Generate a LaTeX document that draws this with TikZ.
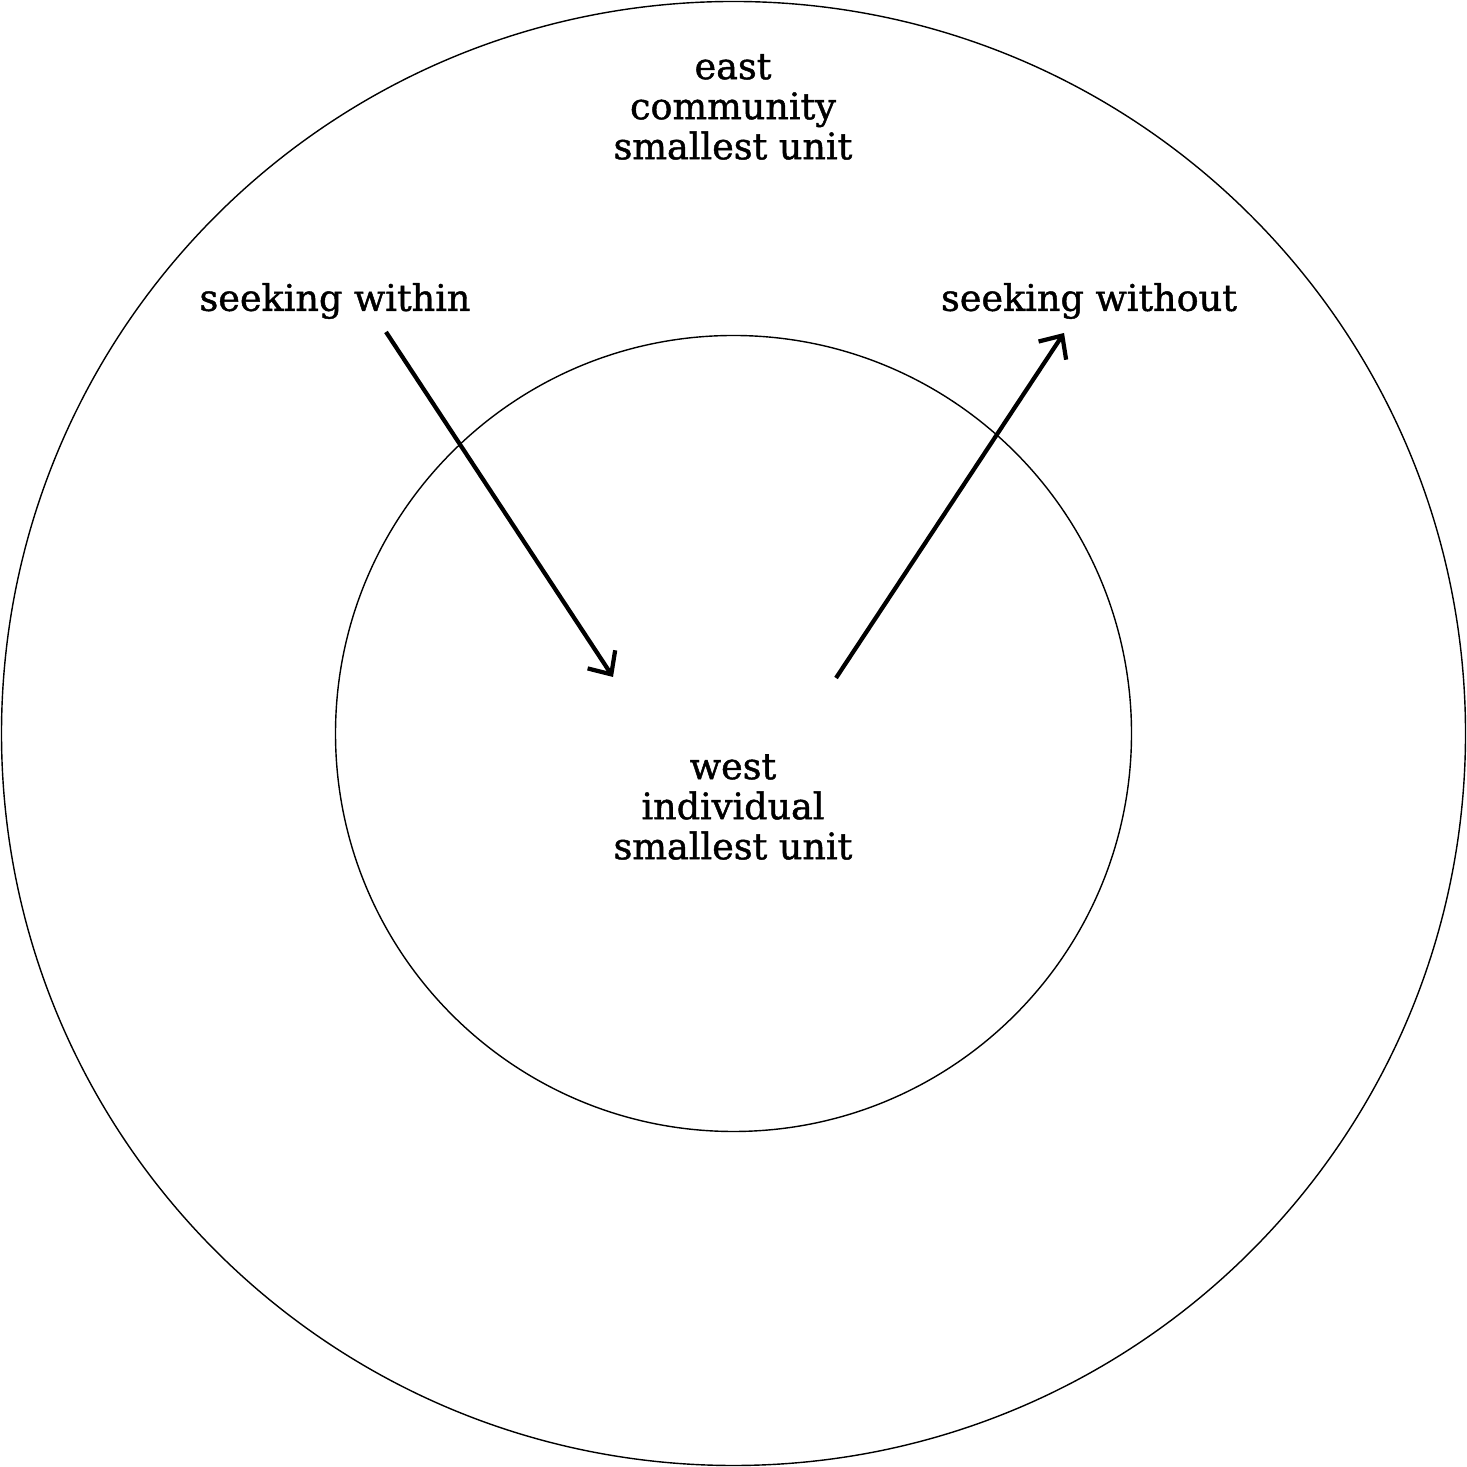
\documentclass[tikz,border=0pt]{standalone}
\usepackage{fontspec}
\setmainfont{DejaVu Serif}
\newfontfamily\labelfont{DejaVu Serif}[BoldFont={DejaVu Serif}, BoldFeatures={FakeBold=1.2}]
\usetikzlibrary{arrows.meta, positioning, calc}

\begin{document}
\begin{tikzpicture}[>={Straight Barb[length=1.8mm, width=3.3mm, line width=1.2pt]}, scale=1]
    % Khung giữ kích thước hình
    \useasboundingbox (0, 0) rectangle (14.67, 14.67);
    \tikzset{
        label/.style={font=\labelfont\bfseries\fontsize{10.4}{11.4}\selectfont, align=center, inner sep=0pt},
        seek/.style={->, line width=1.2pt}
    }
    % Tâm chung của hai đường tròn
    \coordinate (O) at (7.335, 7.335);
    \draw[line width=0.4pt] (O) circle (7.32);
    \draw[line width=0.4pt] (O) circle (3.98);

    % Các nhãn chữ
    \node[label] (east) at (7.33, 13.60) {east\\community\\smallest unit};
    \node[label] (west) at (7.33, 6.60) {west\\individual\\smallest unit};
    \node[label] (within) at (3.35, 11.66) {seeking within};
    \node[label] (without) at (10.89, 11.66) {seeking without};

    % Điểm đầu và cuối của hai mũi tên
    \coordinate (in0) at (3.86, 11.35);
    \coordinate (in1) at (6.13, 7.90);
    \coordinate (out0) at (8.36, 7.89);
    \coordinate (out1) at (10.64, 11.34);

    \draw[seek] (in0) -- (in1);
    \draw[seek] (out0) -- (out1);
\end{tikzpicture}
\end{document}
